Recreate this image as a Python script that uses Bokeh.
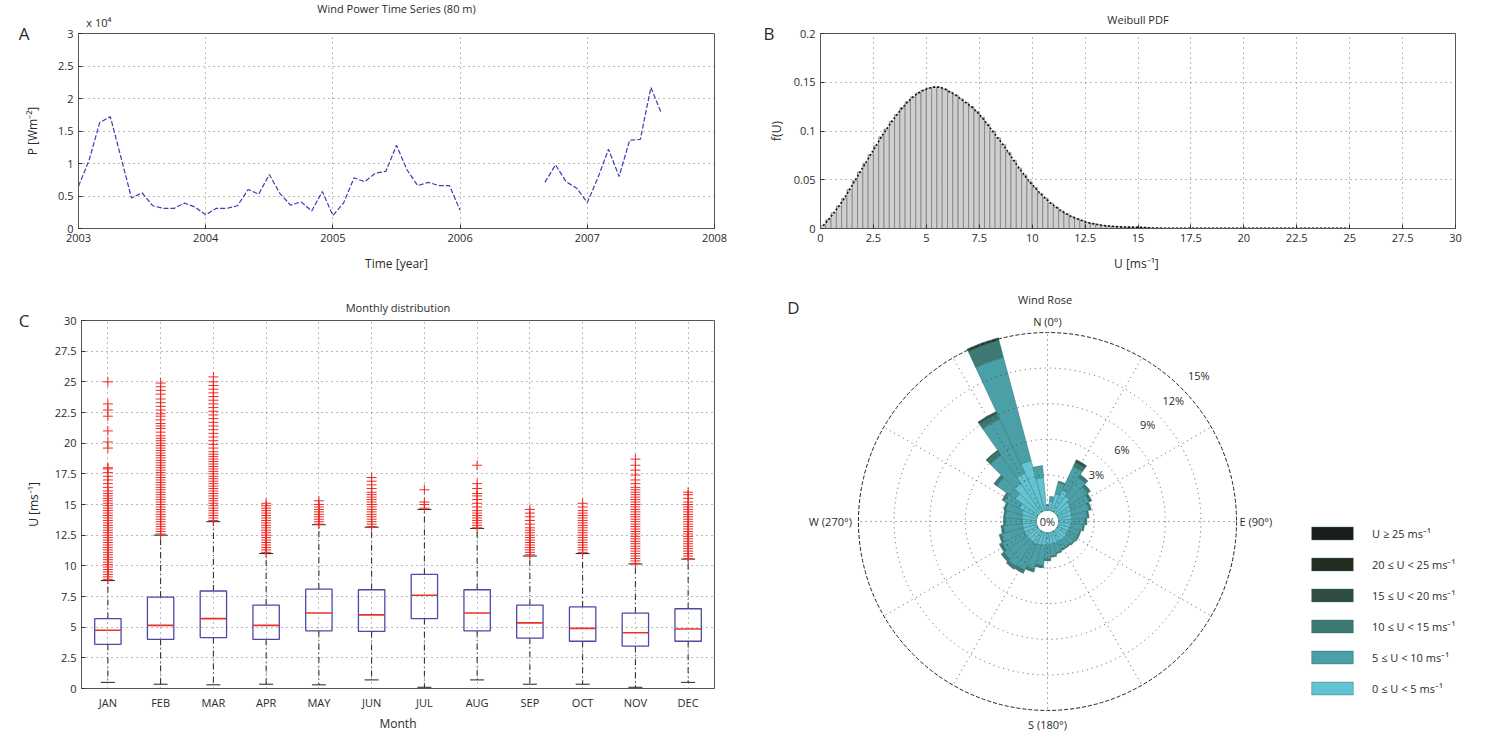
import math
from bokeh.plotting import figure
from bokeh.layouts import column, row
from bokeh.models import (ColumnDataSource, FactorRange, FixedTicker, Label, Legend,
                          LegendItem, LinearAxis, Range1d, CustomJSTickFormatter)
from bokeh.embed import file_html
from bokeh.resources import INLINE

FONT = "Open Sans"
TXT = "#2b2b2b"

# ---------------- A: wind power time series (values in units of 1e4 W m^-2)
power_months_seg1 = list(range(0, 37))          # months after Jan 2003
power_seg1 = [0.65, 1.05, 1.63, 1.72, 1.10, 0.47, 0.55, 0.35, 0.31, 0.31,
              0.39, 0.33, 0.21, 0.31, 0.31, 0.35, 0.60, 0.53, 0.83, 0.54,
              0.36, 0.41, 0.27, 0.57, 0.20, 0.39, 0.78, 0.72, 0.85, 0.88,
              1.28, 0.90, 0.66, 0.71, 0.66, 0.66, 0.28]
power_months_seg2 = list(range(44, 56))
power_seg2 = [0.71, 0.98, 0.72, 0.62, 0.40, 0.78, 1.22, 0.80, 1.36, 1.37, 2.17, 1.77]
year_ticks = [2003, 2004, 2005, 2006, 2007, 2008]
power_ticks = [0, 0.5, 1, 1.5, 2, 2.5, 3]

# ---------------- B: Weibull PDF histogram (bins of 0.25 m/s starting at 0)
weibull_bin_width = 0.25
weibull_pdf = [0.003, 0.009, 0.016, 0.023, 0.031, 0.040, 0.049, 0.058,
               0.067, 0.076, 0.085, 0.094, 0.102, 0.110, 0.117, 0.124,
               0.130, 0.135, 0.139, 0.142, 0.144, 0.145, 0.145, 0.143,
               0.140, 0.137, 0.133, 0.129, 0.125, 0.120, 0.114, 0.107,
               0.100, 0.093, 0.086, 0.078, 0.070, 0.062, 0.055, 0.048,
               0.042, 0.036, 0.031, 0.026, 0.022, 0.018, 0.015, 0.012,
               0.010, 0.008, 0.006, 0.005, 0.004, 0.003, 0.0025, 0.002,
               0.0017, 0.0015, 0.0014, 0.0013, 0.0012, 0.0010, 0.0006, 0.0004,
               0.0003, 0.0003, 0.0003, 0.0003, 0.0003, 0.0003, 0.0003, 0.0003,
               0.0003, 0.0003, 0.0003, 0.0003, 0.0003, 0.0003, 0.0003, 0.0003,
               0.0003, 0.0003, 0.0003, 0.0003, 0.0003, 0.0003, 0.0003, 0.0003,
               0.0003, 0.0003, 0.0003, 0.0003, 0.0003, 0.0003, 0.0003, 0.0003,
               0.0003, 0.0003, 0.0003, 0.0003]
speed_ticks = [0, 2.5, 5, 7.5, 10, 12.5, 15, 17.5, 20, 22.5, 25, 27.5, 30]
pdf_ticks = [0, 0.05, 0.1, 0.15, 0.2]

# ---------------- C: monthly box plots of wind speed
months = ["JAN", "FEB", "MAR", "APR", "MAY", "JUN", "JUL", "AUG", "SEP", "OCT", "NOV", "DEC"]
box_q1 = [3.6, 4.0, 4.15, 4.0, 4.7, 4.65, 5.7, 4.7, 4.1, 3.85, 3.45, 3.85]
box_median = [4.75, 5.15, 5.7, 5.15, 6.15, 6.0, 7.6, 6.15, 5.35, 4.9, 4.55, 4.85]
box_q3 = [5.7, 7.45, 7.95, 6.8, 8.1, 8.05, 9.3, 8.05, 6.8, 6.65, 6.15, 6.5]
whisker_low = [0.5, 0.35, 0.3, 0.35, 0.3, 0.7, 0.1, 0.7, 0.35, 0.35, 0.1, 0.5]
whisker_high = [8.8, 12.5, 13.6, 11.0, 13.35, 13.15, 14.6, 13.05, 10.8, 11.0, 10.15, 10.55]
outliers = {
    "JAN": [8.9, 9.1, 9.3, 9.5, 9.7, 9.9, 10.1, 10.3, 10.5, 10.7, 10.9, 11.1, 11.3, 11.5,
            11.7, 11.9, 12.1, 12.3, 12.5, 12.7, 12.9, 13.1, 13.3, 13.5, 13.7, 13.9, 14.1,
            14.3, 14.5, 14.7, 14.9, 15.1, 15.3, 15.5, 15.7, 15.9, 16.1, 16.4, 16.7, 17.0,
            17.3, 17.6, 17.9, 18.0, 19.6, 20.1, 21.0, 22.2, 22.7, 23.2, 25.0],
    "FEB": [12.6, 12.8, 13.0, 13.2, 13.4, 13.6, 13.8, 14.0, 14.2, 14.4, 14.6, 14.8, 15.0,
            15.2, 15.4, 15.6, 15.8, 16.0, 16.2, 16.4, 16.6, 16.8, 17.0, 17.2, 17.4, 17.6,
            17.8, 18.0, 18.2, 18.4, 18.6, 18.8, 19.0, 19.2, 19.4, 19.6, 19.8, 20.0, 20.2,
            20.4, 20.6, 20.9, 21.2, 21.4, 21.6, 21.9, 22.2, 22.4, 22.7, 23.0, 23.3, 23.6,
            24.0, 24.3, 24.6, 24.9],
    "MAR": [13.7, 13.9, 14.1, 14.3, 14.5, 14.7, 14.9, 15.1, 15.3, 15.5, 15.7, 15.9, 16.1,
            16.3, 16.5, 16.7, 16.9, 17.1, 17.3, 17.5, 17.7, 17.9, 18.1, 18.3, 18.5, 18.7,
            18.9, 19.1, 19.3, 19.6, 19.9, 20.2, 20.5, 20.8, 21.1, 21.4, 21.7, 22.0, 22.3,
            22.6, 22.9, 23.2, 23.5, 23.8, 24.1, 24.4, 24.7, 25.0, 25.4],
    "APR": [11.1, 11.3, 11.5, 11.7, 11.9, 12.1, 12.3, 12.5, 12.7, 12.9, 13.1, 13.3, 13.5,
            13.7, 13.9, 14.1, 14.3, 14.5, 14.7, 14.9, 15.1],
    "MAY": [13.4, 13.6, 13.8, 14.0, 14.2, 14.4, 14.6, 14.8, 15.0, 15.3],
    "JUN": [13.2, 13.4, 13.6, 13.8, 14.0, 14.2, 14.4, 14.6, 14.8, 15.0, 15.2, 15.4, 15.6,
            15.8, 16.0, 16.3, 16.6, 16.9, 17.2],
    "JUL": [14.7, 15.0, 15.2, 16.2],
    "AUG": [13.1, 13.3, 13.5, 13.7, 13.9, 14.1, 14.3, 14.5, 14.8, 15.1, 15.4, 15.7, 15.9,
            16.3, 16.7, 18.2],
    "SEP": [10.9, 11.1, 11.3, 11.5, 11.7, 11.9, 12.1, 12.3, 12.5, 12.7, 12.9, 13.1, 13.4,
            13.7, 14.0, 14.3, 14.6],
    "OCT": [11.1, 11.3, 11.5, 11.7, 11.9, 12.1, 12.3, 12.5, 12.7, 12.9, 13.1, 13.3, 13.5,
            13.7, 13.9, 14.1, 14.3, 14.5, 14.8, 15.1],
    "NOV": [10.2, 10.4, 10.6, 10.8, 11.0, 11.2, 11.4, 11.6, 11.8, 12.0, 12.2, 12.4, 12.6,
            12.8, 13.0, 13.2, 13.4, 13.6, 13.8, 14.0, 14.2, 14.4, 14.6, 14.8, 15.0, 15.2,
            15.4, 15.6, 15.8, 16.0, 16.2, 16.4, 16.7, 17.0, 17.4, 17.8, 18.2, 18.7],
    "DEC": [10.6, 10.8, 11.0, 11.2, 11.4, 11.6, 11.8, 12.0, 12.2, 12.4, 12.6, 12.8, 13.0,
            13.2, 13.4, 13.6, 13.8, 14.0, 14.2, 14.4, 14.6, 14.8, 15.0, 15.2, 15.5, 15.8,
            16.0],
}
u_ticks = [0, 2.5, 5, 7.5, 10, 12.5, 15, 17.5, 20, 22.5, 25, 27.5, 30]

# ---------------- D: wind rose (percent of time per 10 degree sector and speed class)
rose_dirs = list(range(0, 360, 10))
rose_0_5 = [0.4, 0.8, 1.5, 2.0, 1.7, 1.4, 1.3, 1.2, 1.15, 1.1, 1.05, 1.0, 1.0, 1.0, 1.0, 1.0,
            1.0, 1.0, 1.05, 1.1, 1.15, 1.2, 1.2, 1.2, 1.2, 1.2, 1.2, 1.2, 1.25, 1.35, 1.7,
            2.4, 3.0, 3.6, 4.4, 2.8]
rose_5_10 = [0.1, 0.4, 1.0, 2.2, 1.9, 1.8, 1.7, 1.5, 1.3, 1.15, 1.05, 0.9, 0.9, 0.8, 0.7,
             0.7, 0.8, 1.0, 1.2, 1.7, 2.1, 2.4, 2.5, 2.35, 2.1, 1.9, 1.6, 1.45, 1.4, 1.4,
             1.4, 1.9, 2.9, 5.0, 9.0, 1.0]
rose_10_15 = [0.0, 0.0, 0.1, 0.35, 0.3, 0.3, 0.2, 0.2, 0.15, 0.15, 0.1, 0.1, 0.1, 0.1, 0.1,
              0.1, 0.1, 0.1, 0.15, 0.2, 0.25, 0.3, 0.3, 0.3, 0.25, 0.2, 0.2, 0.15, 0.15,
              0.15, 0.2, 0.3, 0.4, 0.5, 1.45, 0.0]
rose_15_20 = [0, 0, 0, 0.15, 0, 0, 0, 0, 0, 0, 0, 0, 0, 0, 0, 0, 0, 0, 0, 0, 0, 0, 0, 0,
              0, 0, 0, 0, 0, 0, 0, 0, 0.1, 0.15, 0.2, 0]
rose_20_25 = [0, 0, 0, 0.08, 0, 0, 0, 0, 0, 0, 0, 0, 0, 0, 0, 0, 0, 0, 0, 0, 0, 0, 0, 0,
              0, 0, 0, 0, 0, 0, 0, 0, 0, 0.05, 0.05, 0]
rose_25_up = [0, 0, 0, 0.03, 0, 0, 0, 0, 0, 0, 0, 0, 0, 0, 0, 0, 0, 0, 0, 0, 0, 0, 0, 0,
              0, 0, 0, 0, 0, 0, 0, 0, 0, 0, 0, 0]
rose_rings = [3, 6, 9, 12, 15]
class_labels = ["0 \u2264 U < 5 ms\u207b\u00b9", "5 \u2264 U < 10 ms\u207b\u00b9",
                "10 \u2264 U < 15 ms\u207b\u00b9", "15 \u2264 U < 20 ms\u207b\u00b9",
                "20 \u2264 U < 25 ms\u207b\u00b9", "U \u2265 25 ms\u207b\u00b9"]
class_colors = ["#62c3d3", "#4b9fa6", "#3d7a74", "#2f4d44", "#232d20", "#1a1d1a"]


def fmt():
    return CustomJSTickFormatter(code="return String(Math.round(tick*1000)/1000);")


def no_align(p):
    try:
        p.frame_align = False
    except Exception:
        pass


def style(p):
    no_align(p)
    p.outline_line_color = "#555555"
    p.outline_line_width = 1
    p.border_fill_color = "white"
    for ax in p.axis:
        ax.major_tick_in = 4
        ax.major_tick_out = 0
        ax.minor_tick_in = 0
        ax.minor_tick_out = 0
        ax.axis_line_color = "#555555"
        ax.major_tick_line_color = "#333333"
        ax.major_label_text_font = FONT
        ax.major_label_text_font_size = "11px"
        ax.major_label_text_color = TXT
        ax.major_label_standoff = 5
        ax.axis_label_text_font = FONT
        ax.axis_label_text_font_size = "12px"
        ax.axis_label_text_font_style = "normal"
        ax.axis_label_text_color = TXT
    p.grid.grid_line_color = "#555555"
    p.grid.grid_line_dash = "1 4"
    p.grid.grid_line_alpha = 0.8
    p.title.align = "center"
    p.title.text_font = FONT
    p.title.text_font_size = "11px"
    p.title.text_font_style = "normal"
    p.title.text_color = TXT
    p.title.standoff = 14


def margin_text(p, side, tick, text, size="17px", standoff=2):
    # a bare axis whose single tick label carries a margin text (panel letter, exponent)
    ax = LinearAxis(ticker=FixedTicker(ticks=[tick]),
                    formatter=CustomJSTickFormatter(code="return %r;" % text),
                    axis_line_color=None, major_tick_line_color=None,
                    minor_tick_line_color=None, major_tick_in=0, major_tick_out=0,
                    major_label_text_font=FONT, major_label_text_font_size=size,
                    major_label_text_color=TXT, major_label_standoff=standoff)
    p.add_layout(ax, side)


def text_at(p, x, y, text, size="11px", align="center"):
    p.add_layout(Label(x=x, y=y, text=text, text_font=FONT, text_font_size=size,
                       text_color=TXT, text_align=align, text_baseline="middle"))


# ======================= Panel A
pA = figure(width=740, height=290, x_range=Range1d(2003, 2008), y_range=Range1d(0, 3),
            output_backend="svg", toolbar_location=None, title="Wind Power Time Series (80 m)",
            min_border_left=78, min_border_right=26, min_border_top=33, min_border_bottom=62)
style(pA)
pA.title.standoff = -8
pA.xaxis.ticker = FixedTicker(ticks=year_ticks)
pA.yaxis.ticker = FixedTicker(ticks=power_ticks)
pA.yaxis.formatter = fmt()
pA.xaxis.axis_label = "Time [year]"
pA.yaxis.axis_label = "P [Wm\u207b\u00b2]"
pA.yaxis.axis_label_standoff = 14
pA.xaxis.axis_label_standoff = 10
for mm, vv in ((power_months_seg1, power_seg1), (power_months_seg2, power_seg2)):
    pA.line(x=[2003 + m / 12 for m in mm], y=vv, line_color="#3d3db5", line_width=1.2,
            line_dash="5 2")
margin_text(pA, "left", 3, "A", standoff=-8)
margin_text(pA, "above", 2003.16, "x 10\u2074", size="11px", standoff=4)

# ======================= Panel B
pB = figure(width=747, height=290, x_range=Range1d(0, 30), y_range=Range1d(0, 0.2),
            output_backend="svg", toolbar_location=None, title="Weibull PDF",
            min_border_left=80, min_border_right=32, min_border_top=33, min_border_bottom=62)
style(pB)
pB.xaxis.ticker = FixedTicker(ticks=speed_ticks)
pB.yaxis.ticker = FixedTicker(ticks=pdf_ticks)
pB.xaxis.formatter = fmt()
pB.yaxis.formatter = fmt()
pB.xaxis.axis_label = "U  [ms\u207b\u00b9]"
pB.yaxis.axis_label = "f(U)"
pB.yaxis.axis_label_standoff = 6
pB.xaxis.axis_label_standoff = 10
centers = [weibull_bin_width * (i + 0.5) for i in range(len(weibull_pdf))]
pB.vbar(x=centers, top=weibull_pdf, width=weibull_bin_width, fill_color="#cfcfcf",
        line_color="#6a6a6a", line_width=0.6)
pB.line(x=centers, y=weibull_pdf, line_color="#111111", line_width=1.6, line_dash="2 2")
margin_text(pB, "left", 0.2, "B", standoff=-10)

# ======================= Panel C
pC = figure(width=760, height=444, x_range=FactorRange(factors=months), y_range=Range1d(0, 30),
            output_backend="svg", toolbar_location=None, title="Monthly distribution",
            min_border_left=81, min_border_right=46, min_border_top=30, min_border_bottom=41)
style(pC)
pC.title.standoff = 11
pC.yaxis.ticker = FixedTicker(ticks=u_ticks)
pC.yaxis.formatter = fmt()
pC.xaxis.axis_label = "Month"
pC.yaxis.axis_label = "U [ms\u207b\u00b9]"
pC.yaxis.axis_label_standoff = 10
pC.xaxis.axis_label_standoff = 2
pC.xaxis.major_label_standoff = 6
pC.xaxis.major_tick_in = 0
pC.segment(x0=months, y0=box_q3, x1=months, y1=whisker_high, line_color="#222222",
           line_width=1, line_dash="6 3 1 3")
pC.segment(x0=months, y0=box_q1, x1=months, y1=whisker_low, line_color="#222222",
           line_width=1, line_dash="6 3 1 3")
pC.scatter(x=months, y=whisker_low, marker="dash", size=14, line_color="#222222", line_width=1)
pC.scatter(x=months, y=whisker_high, marker="dash", size=14, line_color="#222222", line_width=1)
pC.vbar(x=months, top=box_q3, bottom=box_q1, width=0.5, fill_alpha=0,
        line_color="#4a4aa6", line_width=1.3)
pC.scatter(x=months, y=box_median, marker="dash", size=26, line_color="#e8322c", line_width=1.6)
om, ov = [], []
for mo in months:
    for v in outliers[mo]:
        om.append(mo)
        ov.append(v)
pC.scatter(x=om, y=ov, marker="cross", size=10, line_color="#ee2a24", line_width=1)
margin_text(pC, "left", 30, "C", standoff=-8)

# ======================= Panel D
S = 11.87            # pixels per percent
HOLE = 11 / S
OUT = HOLE + rose_rings[-1]
CXP, CYP = 287, 231
pD = figure(width=727, height=444, x_range=Range1d(-CXP / S, (727 - CXP) / S),
            y_range=Range1d(-(444 - CYP) / S, CYP / S), x_axis_type=None, y_axis_type=None,
            output_backend="svg", toolbar_location=None, min_border=0, title=None)
no_align(pD)
pD.outline_line_color = None
pD.border_fill_color = "white"

classes = [rose_0_5, rose_5_10, rose_10_15, rose_15_20, rose_20_25, rose_25_up]
base = [0.0] * len(rose_dirs)
rends = []
for vals, colr in zip(classes, class_colors):
    keep = [i for i, v in enumerate(vals) if v > 0]
    src = ColumnDataSource(dict(
        inner=[HOLE + base[i] for i in keep],
        outer=[HOLE + base[i] + vals[i] for i in keep],
        start=[math.radians(90 - rose_dirs[i] - 5) for i in keep],
        end=[math.radians(90 - rose_dirs[i] + 5) for i in keep]))
    r = pD.annular_wedge(x=0, y=0, inner_radius="inner", outer_radius="outer",
                         start_angle="start", end_angle="end", source=src,
                         fill_color=colr, line_color="#2d6b6b", line_width=0.6, line_alpha=0.7)
    rends.append(r)
    base = [b + v for b, v in zip(base, vals)]

# grid: rings and spokes
pD.circle(x=[0] * 4, y=[0] * 4, radius=[HOLE + p for p in rose_rings[:-1]], fill_color=None,
          line_color="#333333", line_dash="1 4", line_width=1, line_alpha=0.8)
pD.circle(x=0, y=0, radius=OUT, fill_color=None, line_color="#222222", line_dash="4 2",
          line_width=1)
spokes = list(range(0, 360, 30))
pD.segment(x0=[HOLE * math.sin(math.radians(a)) for a in spokes],
           y0=[HOLE * math.cos(math.radians(a)) for a in spokes],
           x1=[OUT * math.sin(math.radians(a)) for a in spokes],
           y1=[OUT * math.cos(math.radians(a)) for a in spokes],
           line_color="#333333", line_dash="1 4", line_width=1, line_alpha=0.8)

text_at(pD, 0, OUT + 0.95, "N (0\u00b0)")
text_at(pD, 0, -(OUT + 1.15), "S (180\u00b0)")
text_at(pD, OUT + 0.25, 0, "E (90\u00b0)", align="left")
text_at(pD, -(OUT + 0.55), 0, "W (270\u00b0)", align="right")
text_at(pD, 0, 0, "0%")
for p_ in rose_rings:
    rr = HOLE + p_ + 1.8
    text_at(pD, rr * math.cos(math.radians(44)), rr * math.sin(math.radians(44)), f"{p_}%")
text_at(pD, -0.2, (CYP - 9) / S, "Wind Rose")
text_at(pD, (33 - CXP) / S, (CYP - 17) / S, "D", size="17px")

items = [LegendItem(label=lab, renderers=[r]) for lab, r in
         zip(reversed(class_labels), reversed(rends))]
leg = Legend(items=items, location=(546, 38), glyph_width=52, glyph_height=16, label_height=16,
             spacing=15, padding=0, margin=0, label_standoff=14, border_line_color=None,
             background_fill_alpha=0, label_text_font=FONT, label_text_font_size="11px",
             label_text_color=TXT)
pD.add_layout(leg)

layout = column(row(pA, pB), row(pC, pD))
open("out.html", "w").write(file_html(layout, INLINE))
